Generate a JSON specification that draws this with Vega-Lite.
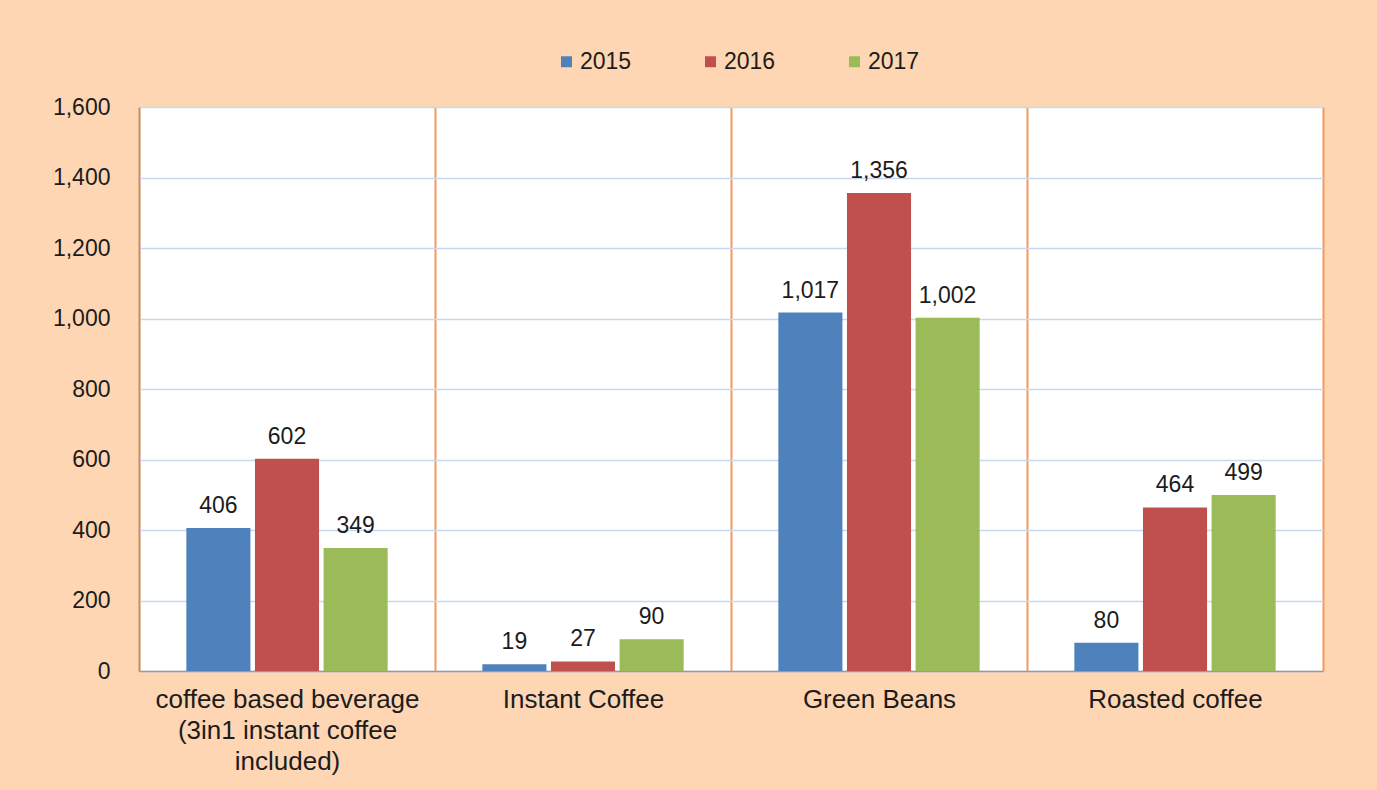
{
  "$schema": "https://vega.github.io/schema/vega-lite/v6.json",
  "width": 1184,
  "height": 564,
  "autosize": {"type": "none"},
  "padding": {"left": 139, "top": 107, "right": 54, "bottom": 119},
  "background": "#fed6b4",
  "data": {
    "values": [
      {"category": "coffee based beverage (3in1 instant coffee included)", "year": "2015", "value": 406},
      {"category": "coffee based beverage (3in1 instant coffee included)", "year": "2016", "value": 602},
      {"category": "coffee based beverage (3in1 instant coffee included)", "year": "2017", "value": 349},
      {"category": "Instant Coffee", "year": "2015", "value": 19},
      {"category": "Instant Coffee", "year": "2016", "value": 27},
      {"category": "Instant Coffee", "year": "2017", "value": 90},
      {"category": "Green Beans", "year": "2015", "value": 1017},
      {"category": "Green Beans", "year": "2016", "value": 1356},
      {"category": "Green Beans", "year": "2017", "value": 1002},
      {"category": "Roasted coffee", "year": "2015", "value": 80},
      {"category": "Roasted coffee", "year": "2016", "value": 464},
      {"category": "Roasted coffee", "year": "2017", "value": 499}
    ]
  },
  "encoding": {
    "x": {
      "field": "category",
      "type": "nominal",
      "sort": ["coffee based beverage (3in1 instant coffee included)", "Instant Coffee", "Green Beans", "Roasted coffee"],
      "scale": {"paddingInner": 0, "paddingOuter": 0},
      "axis": {
        "title": null,
        "labelAngle": 0,
        "ticks": false,
        "tickBand": "extent",
        "grid": true,
        "gridColor": "#f29a5a",
        "gridWidth": 2,
        "gridOpacity": 1,
        "domainColor": "#9a9a9a",
        "domainWidth": 1.5,
        "labelFontSize": 26,
        "labelFont": "Liberation Sans",
        "labelColor": "#1c1c1c",
        "labelPadding": 15,
        "labelLineHeight": 31,
        "labelLimit": 0,
        "labelExpr": "datum.value == 'coffee based beverage (3in1 instant coffee included)' ? ['coffee based beverage', '(3in1 instant coffee', 'included)'] : datum.value"
      }
    },
    "xOffset": {
      "field": "year",
      "type": "nominal",
      "scale": {"paddingInner": 0.066, "paddingOuter": 0.69}
    },
    "y": {
      "field": "value",
      "type": "quantitative",
      "scale": {"domain": [0, 1600], "nice": false},
      "axis": {
        "title": null,
        "values": [0, 200, 400, 600, 800, 1000, 1200, 1400, 1600],
        "format": ",.0f",
        "ticks": false,
        "grid": true,
        "gridColor": "#c6d9f1",
        "gridWidth": 1.5,
        "gridOpacity": 1,
        "domainColor": "#9a9a9a",
        "domainWidth": 1.5,
        "labelFontSize": 23,
        "labelFont": "Liberation Sans",
        "labelColor": "#1c1c1c",
        "labelPadding": 29
      }
    }
  },
  "layer": [
    {
      "mark": {"type": "bar"},
      "encoding": {
        "color": {
          "field": "year",
          "type": "nominal",
          "scale": {"domain": ["2015", "2016", "2017"], "range": ["#4f81bd", "#c0504d", "#9bbb59"]},
          "legend": {
            "title": null,
            "orient": "none",
            "direction": "horizontal",
            "legendX": 416,
            "legendY": -57,
            "padding": 0,
            "symbolType": "square",
            "symbolSize": 120,
            "symbolStrokeWidth": 0,
            "labelFontSize": 23,
            "labelFont": "Liberation Sans",
            "labelColor": "#1c1c1c",
            "labelOffset": 2,
            "columnPadding": 67
          }
        }
      }
    },
    {
      "mark": {"type": "text", "baseline": "bottom", "dy": -10, "fontSize": 23, "font": "Liberation Sans", "color": "#1c1c1c"},
      "encoding": {
        "text": {"field": "value", "type": "quantitative", "format": ","}
      }
    }
  ],
  "config": {
    "view": {"fill": "white", "stroke": null},
    "axisX": {"gridColor": "#f29a5a", "gridWidth": 2}
  }
}
